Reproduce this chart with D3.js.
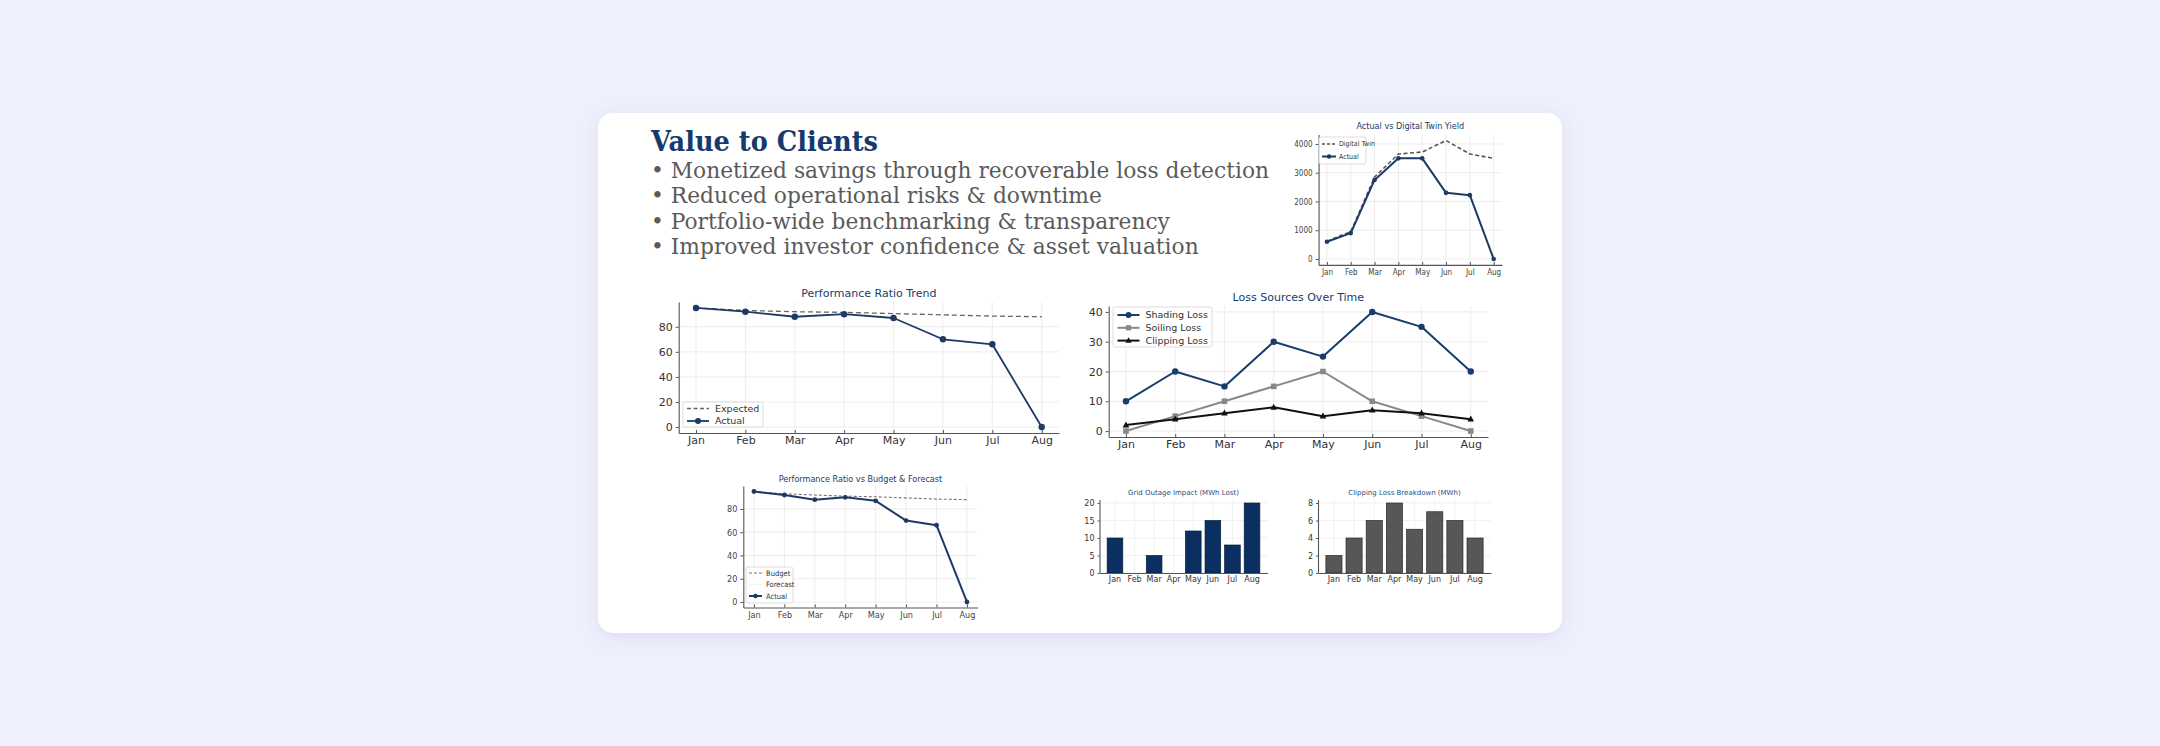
<!DOCTYPE html>
<html>
<head>
<meta charset="utf-8">
<script src="https://cdn.jsdelivr.net/npm/d3@7"></script>
<style>
  body { margin: 0; background: #eef0fc; }
  svg { display: block; }
</style>
</head>
<body>
<svg id="page" width="2160" height="746"></svg>
<script>
// ---- data ----
var months = ["Jan", "Feb", "Mar", "Apr", "May", "Jun", "Jul", "Aug"];
var headline = "Value to Clients";
var bullets = [
  "• Monetized savings through recoverable loss detection",
  "• Reduced operational risks & downtime",
  "• Portfolio-wide benchmarking & transparency",
  "• Improved investor confidence & asset valuation"
];

var twinYield = [620, 950, 2850, 3650, 3720, 4120, 3650, 3500];
var actualYield = [600, 900, 2750, 3500, 3500, 2300, 2220, 0];
var yieldTicks = [0, 1000, 2000, 3000, 4000];

var expectedPR = [95, 93, 92, 91.5, 90.5, 89.5, 88.5, 88];
var actualPR = [95, 92, 88, 90, 87, 70, 66, 0];
var prTicks = [0, 20, 40, 60, 80];

var shadingLoss = [10, 20, 15, 30, 25, 40, 35, 20];
var soilingLoss = [0, 5, 10, 15, 20, 10, 5, 0];
var clippingLoss = [2, 4, 6, 8, 5, 7, 6, 4];
var lossTicks = [0, 10, 20, 30, 40];

var budgetPR = [95, 93, 92, 91, 90.5, 89.5, 88.5, 88];
var forecastPR = []; // legend only, nothing plotted

var outageLost = [10, 0, 5, 0, 12, 15, 8, 20];
var outageTicks = [0, 5, 10, 15, 20];

var clippingMWh = [2, 4, 6, 8, 5, 7, 6, 4];
var clippingTicks = [0, 2, 4, 6, 8];

// ---- page ----
var svg = d3.select("#page");
var navy = "#163d6b";
var SANS = "'DejaVu Sans', sans-serif";
var NARROW = "'Liberation Sans Narrow', 'DejaVu Sans Condensed', 'DejaVu Sans', sans-serif";

var defs = svg.append("defs");
var f = defs.append("filter").attr("id", "shadow").attr("x", "-10%").attr("y", "-10%").attr("width", "120%").attr("height", "130%");
f.append("feDropShadow").attr("dx", 0).attr("dy", 4).attr("stdDeviation", 8)
  .attr("flood-color", "#5a64b4").attr("flood-opacity", 0.13);

svg.append("rect")
  .attr("x", 598).attr("y", 113).attr("width", 964).attr("height", 520)
  .attr("rx", 15).attr("fill", "#fff").attr("filter", "url(#shadow)");

var head = svg.append("text")
  .attr("x", 651).attr("y", 151)
  .style("font-family", "'DejaVu Serif', serif")
  .style("font-weight", "bold")
  .style("font-size", "27px")
  .attr("fill", "#173a6c")
  .text(headline);
// squeeze to the width of the slab face in the original
head.attr("textLength", 227).attr("lengthAdjust", "spacingAndGlyphs");

var bl = svg.append("g").selectAll("text")
  .data(bullets)
  .enter().append("text")
  .attr("x", 651)
  .attr("y", function(d, i) { return 177.5 + i * 25.6 })
  .style("font-family", "'DejaVu Serif', serif")
  .style("font-size", "22.5px")
  .attr("fill", "#5a5a5a")
  .text(function(d) { return d });

var first = bl.nodes()[0].getComputedTextLength();
var squeeze = 618 / first;
bl.each(function() {
  var w = this.getComputedTextLength();
  d3.select(this).attr("textLength", w * squeeze).attr("lengthAdjust", "spacingAndGlyphs");
});

// ---- helpers ----
function drawMarker(g, type, cx, cy, r, color) {
  if (type == "circle") {
    g.append("circle").attr("cx", cx).attr("cy", cy).attr("r", r).attr("fill", color);
  } else if (type == "square") {
    g.append("rect").attr("x", cx - r).attr("y", cy - r).attr("width", 2 * r).attr("height", 2 * r).attr("fill", color);
  } else if (type == "triangle") {
    g.append("path")
      .attr("d", "M" + cx + "," + (cy - r * 1.2) + "L" + (cx + r * 1.1) + "," + (cy + r * 0.8) + "L" + (cx - r * 1.1) + "," + (cy + r * 0.8) + "Z")
      .attr("fill", color);
  }
}

function styleAxis(ax, o) {
  ax.select(".domain").attr("stroke", "#555").attr("stroke-width", 1.1);
  ax.selectAll(".tick line").attr("stroke", "#555");
  ax.selectAll(".tick text")
    .style("font-family", o.font).style("font-size", o.tickSize + "px")
    .attr("fill", o.tickColor || "#333");
}

function drawLegend(o) {
  var L = o.legend;
  var lg = svg.append("g");
  lg.append("rect")
    .attr("x", L.x).attr("y", L.y).attr("width", L.w).attr("height", L.h)
    .attr("rx", 2).attr("fill", "#fff").attr("fill-opacity", 0.85)
    .attr("stroke", "#d4d4d4").attr("stroke-width", 0.8);
  L.items.forEach(function(s, i) {
    var yy = L.y + L.first + i * L.gap;
    var x0 = L.x + L.pad, x1 = x0 + L.sample;
    if (s.color) {
      lg.append("line").attr("x1", x0).attr("x2", x1).attr("y1", yy).attr("y2", yy)
        .attr("stroke", s.color).attr("stroke-width", s.width)
        .attr("stroke-dasharray", s.dash || null);
      if (s.marker) drawMarker(lg, s.marker, (x0 + x1) / 2, yy, s.r, s.color);
    }
    lg.append("text").attr("x", x1 + L.textGap).attr("y", yy).attr("dy", "0.35em")
      .style("font-family", o.font).style("font-size", L.size + "px")
      .attr("fill", "#333").text(s.name);
  });
}

function lineChart(o) {
  var x = d3.scaleLinear().domain([-0.35, 7.35]).range([o.left, o.right]);
  var y = d3.scaleLinear().domain(o.yDomain).range([o.bottom, o.top]);
  var g = svg.append("g");

  // grid
  g.append("g").selectAll("line").data(o.yTicks).enter().append("line")
    .attr("x1", o.left).attr("x2", o.right)
    .attr("y1", function(d) { return y(d) }).attr("y2", function(d) { return y(d) })
    .attr("stroke", "#e8e8e8").attr("stroke-width", 0.8);
  g.append("g").selectAll("line").data(d3.range(months.length)).enter().append("line")
    .attr("x1", function(d) { return x(d) }).attr("x2", function(d) { return x(d) })
    .attr("y1", o.top).attr("y2", o.bottom)
    .attr("stroke", "#e8e8e8").attr("stroke-width", 0.8);

  var xa = g.append("g").attr("transform", "translate(0," + o.bottom + ")")
    .call(d3.axisBottom(x).tickValues(d3.range(months.length))
      .tickFormat(function(i) { return months[i] })
      .tickSizeInner(-3).tickSizeOuter(0).tickPadding(o.xPad));
  styleAxis(xa, o);
  var ya = g.append("g").attr("transform", "translate(" + o.left + ",0)")
    .call(d3.axisLeft(y).tickValues(o.yTicks).tickFormat(d3.format("d"))
      .tickSizeInner(3).tickSizeOuter(0).tickPadding(o.yPad));
  styleAxis(ya, o);

  // series
  o.series.forEach(function(s) {
    if (!s.values.length) return;
    var line = d3.line().x(function(d, i) { return x(i) }).y(function(d) { return y(d) });
    g.append("path").datum(s.values)
      .attr("d", line).attr("fill", "none")
      .attr("stroke", s.color).attr("stroke-width", s.width)
      .attr("stroke-dasharray", s.dash || null)
      .attr("stroke-linejoin", "round");
    if (s.marker) {
      s.values.forEach(function(v, i) { drawMarker(g, s.marker, x(i), y(v), s.r, s.color) });
    }
  });

  g.append("text")
    .attr("x", (o.left + o.right) / 2).attr("y", o.titleY)
    .attr("text-anchor", "middle")
    .style("font-family", o.font).style("font-size", o.titleSize + "px")
    .attr("fill", navy).text(o.title);

  drawLegend(o);
}

function barChart(o) {
  var x = d3.scaleBand().domain(months).range([o.left, o.right]).paddingInner(0.2).paddingOuter(0.39);
  var y = d3.scaleLinear().domain(o.yDomain).range([o.bottom, o.top]);
  var g = svg.append("g");

  g.append("g").selectAll("line").data(o.yTicks).enter().append("line")
    .attr("x1", o.left).attr("x2", o.right)
    .attr("y1", function(d) { return y(d) }).attr("y2", function(d) { return y(d) })
    .attr("stroke", "#ebebeb").attr("stroke-width", 0.7);
  g.append("g").selectAll("line").data(months).enter().append("line")
    .attr("x1", function(d) { return x(d) + x.bandwidth() / 2 }).attr("x2", function(d) { return x(d) + x.bandwidth() / 2 })
    .attr("y1", o.top).attr("y2", o.bottom)
    .attr("stroke", "#ebebeb").attr("stroke-width", 0.7);

  g.append("g").selectAll("rect").data(o.values).enter().append("rect")
    .attr("x", function(d, i) { return x(months[i]) })
    .attr("width", x.bandwidth())
    .attr("y", function(d) { return y(d) })
    .attr("height", function(d) { return y(0) - y(d) })
    .attr("fill", o.fill).attr("stroke", o.edge).attr("stroke-width", 0.7);

  var xa = g.append("g").attr("transform", "translate(0," + o.bottom + ")")
    .call(d3.axisBottom(x).tickSizeInner(0).tickSizeOuter(0).tickPadding(o.xPad));
  styleAxis(xa, o);
  var ya = g.append("g").attr("transform", "translate(" + o.left + ",0)")
    .call(d3.axisLeft(y).tickValues(o.yTicks).tickSizeInner(2).tickSizeOuter(0).tickPadding(o.yPad));
  styleAxis(ya, o);

  g.append("text")
    .attr("x", (o.left + o.right) / 2).attr("y", o.titleY)
    .attr("text-anchor", "middle")
    .style("font-family", o.font).style("font-size", o.titleSize + "px")
    .attr("fill", "#2c4d7c").text(o.title);
}

// ---- charts ----
lineChart({
  title: "Actual vs Digital Twin Yield", titleY: 129, titleSize: 9,
  font: NARROW, tickSize: 8, tickColor: "#444", xPad: 4, yPad: 3,
  left: 1318.6, right: 1502, top: 134.6, bottom: 264.9,
  yDomain: [-206, 4326], yTicks: yieldTicks,
  series: [
    { name: "Digital Twin", values: twinYield, color: "#555", width: 1.6, dash: "4,2.5" },
    { name: "Actual", values: actualYield, color: "#1c3a63", width: 2, marker: "circle", r: 2.3 }
  ],
  legend: { x: 1319, y: 137, w: 47, h: 27, first: 7, gap: 12.5, pad: 3, sample: 14, textGap: 3, size: 7,
    items: [
      { name: "Digital Twin", color: "#555", width: 1.6, dash: "3,2" },
      { name: "Actual", color: "#1c3a63", width: 2, marker: "circle", r: 2.2 }
    ] }
});

lineChart({
  title: "Performance Ratio Trend", titleY: 297, titleSize: 11,
  font: SANS, tickSize: 11, xPad: 3, yPad: 3,
  left: 678.7, right: 1059, top: 302, bottom: 433,
  yDomain: [-4.75, 99.75], yTicks: prTicks,
  series: [
    { name: "Expected", values: expectedPR, color: "#666", width: 1.3, dash: "5,3" },
    { name: "Actual", values: actualPR, color: "#1c3a63", width: 1.8, marker: "circle", r: 3.2 }
  ],
  legend: { x: 683, y: 402, w: 80, h: 25, first: 6.5, gap: 12.5, pad: 4, sample: 22, textGap: 6, size: 9.5,
    items: [
      { name: "Expected", color: "#666", width: 1.3, dash: "4,2.5" },
      { name: "Actual", color: "#1c3a63", width: 1.8, marker: "circle", r: 3 }
    ] }
});

lineChart({
  title: "Loss Sources Over Time", titleY: 301, titleSize: 11,
  font: SANS, tickSize: 11, xPad: 3, yPad: 3,
  left: 1108.7, right: 1488, top: 306, bottom: 437,
  yDomain: [-2, 42], yTicks: lossTicks,
  series: [
    { name: "Shading Loss", values: shadingLoss, color: "#163d6b", width: 2, marker: "circle", r: 3.2 },
    { name: "Soiling Loss", values: soilingLoss, color: "#888", width: 2, marker: "square", r: 2.8 },
    { name: "Clipping Loss", values: clippingLoss, color: "#111", width: 2, marker: "triangle", r: 3 }
  ],
  legend: { x: 1113, y: 307, w: 99, h: 40, first: 8, gap: 12.8, pad: 4.5, sample: 22, textGap: 6, size: 9.5,
    items: [
      { name: "Shading Loss", color: "#163d6b", width: 2, marker: "circle", r: 3 },
      { name: "Soiling Loss", color: "#888", width: 2, marker: "square", r: 2.6 },
      { name: "Clipping Loss", color: "#111", width: 2, marker: "triangle", r: 2.8 }
    ] }
});

lineChart({
  title: "Performance Ratio vs Budget & Forecast", titleY: 482, titleSize: 9,
  font: NARROW, tickSize: 9, tickColor: "#444", xPad: 4, yPad: 3,
  left: 743.3, right: 977.6, top: 486, bottom: 607.5,
  yDomain: [-4.75, 99.75], yTicks: prTicks,
  series: [
    { name: "Budget", values: budgetPR, color: "#777", width: 1.1, dash: "3,2" },
    { name: "Forecast", values: forecastPR, color: "#ddd", width: 1 },
    { name: "Actual", values: actualPR, color: "#1c3a63", width: 2, marker: "circle", r: 2.4 }
  ],
  legend: { x: 746, y: 567, w: 47, h: 36, first: 6, gap: 11.5, pad: 3, sample: 13, textGap: 4, size: 7.5,
    items: [
      { name: "Budget", color: "#777", width: 1.1, dash: "3,2" },
      { name: "Forecast", color: "#f2f2f2", width: 1 },
      { name: "Actual", color: "#1c3a63", width: 2, marker: "circle", r: 2.2 }
    ] }
});

barChart({
  title: "Grid Outage Impact (MWh Lost)", titleY: 495, titleSize: 7,
  font: SANS, tickSize: 8, xPad: 3, yPad: 3,
  left: 1099.5, right: 1267.5, top: 499.5, bottom: 573,
  yDomain: [0, 21], yTicks: outageTicks,
  values: outageLost, fill: "#0b2f61", edge: "#06203f"
});

barChart({
  title: "Clipping Loss Breakdown (MWh)", titleY: 495, titleSize: 7,
  font: SANS, tickSize: 8, xPad: 3, yPad: 3,
  left: 1318, right: 1491, top: 499.5, bottom: 573,
  yDomain: [0, 8.4], yTicks: clippingTicks,
  values: clippingMWh, fill: "#575757", edge: "#2a2a2a"
});
</script>
</body>
</html>
